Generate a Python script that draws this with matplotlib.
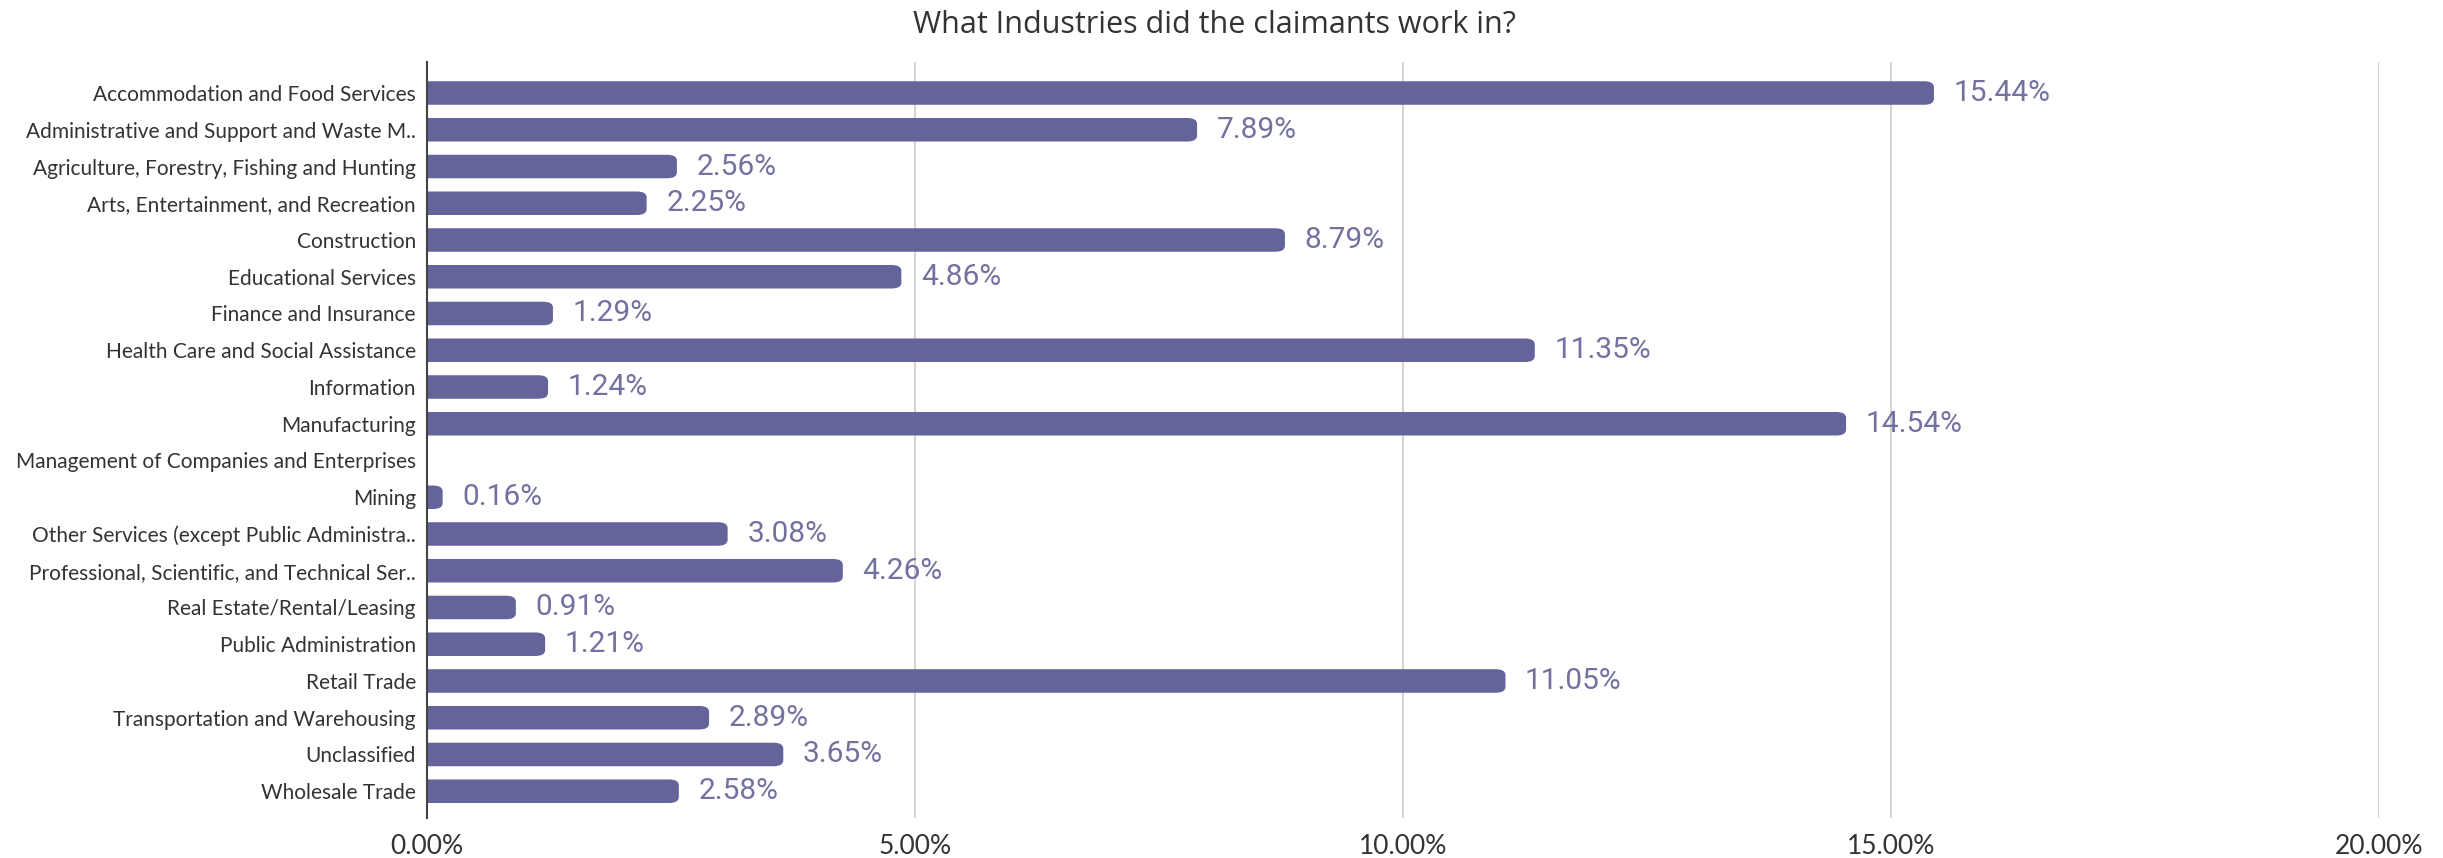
import numpy as np
import matplotlib.pyplot as plt
from matplotlib.patches import FancyBboxPatch
from matplotlib.ticker import FuncFormatter

industries = [
    "Accommodation and Food Services",
    "Administrative and Support and Waste M..",
    "Agriculture, Forestry, Fishing and Hunting",
    "Arts, Entertainment, and Recreation",
    "Construction",
    "Educational Services",
    "Finance and Insurance",
    "Health Care and Social Assistance",
    "Information",
    "Manufacturing",
    "Management of Companies and Enterprises",
    "Mining",
    "Other Services (except Public Administra..",
    "Professional, Scientific, and Technical Ser..",
    "Real Estate/Rental/Leasing",
    "Public Administration",
    "Retail Trade",
    "Transportation and Warehousing",
    "Unclassified",
    "Wholesale Trade",
]
share = [15.44, 7.89, 2.56, 2.25, 8.79, 4.86, 1.29, 11.35, 1.24, 14.54,
         0.0, 0.16, 3.08, 4.26, 0.91, 1.21, 11.05, 2.89, 3.65, 2.58]
xticks = [0, 5, 10, 15, 20]

bar_color = "#64639a"
label_color = "#72719f"

fig = plt.figure(figsize=(24.43, 8.58), dpi=100)
ax = fig.add_axes([0.1748, 0.047, 0.799, 0.881])

y = np.arange(len(industries))
bars = ax.barh(y, share, height=0.64, color=bar_color)

# swap plain rectangles for ones with a rounded right end
# (the left rounding falls outside the axes and gets clipped)
for b in bars:
    w = b.get_width()
    b.set_visible(False)
    if w <= 0:
        continue
    x0, y0, h = b.get_x(), b.get_y(), b.get_height()
    r = 0.1
    p = FancyBboxPatch((x0 - 0.3, y0), w + 0.3, h,
                       boxstyle=f"round,pad=0,rounding_size={r}",
                       mutation_aspect=h / r * 0.25,
                       facecolor=bar_color, edgecolor="none", zorder=3)
    ax.add_patch(p)

for yi, v in zip(y, share):
    if v > 0:
        ax.text(v + 0.2, yi, f"{v:.2f}%", va="center", ha="left",
                fontsize=21.5, color=label_color, family="Roboto", zorder=4)

ax.set_xlim(0, 20)
ax.set_ylim(len(industries) - 0.28, -0.85)
ax.set_yticks(y)
ax.set_yticklabels(industries, fontsize=15, family="Lato", color="#333333")
ax.set_xticks(xticks)
ax.xaxis.set_major_formatter(FuncFormatter(lambda v, p: f"{v:.2f}%"))
for t in ax.get_xticklabels():
    t.set_fontsize(19)
    t.set_family("Lato")
    t.set_color("#333333")
ax.tick_params(axis="both", length=0)
ax.tick_params(axis="x", pad=12)
ax.tick_params(axis="y", pad=8)

for xv in xticks[1:]:
    ax.axvline(xv, color="#cccccc", lw=1.2, zorder=1)

for s in ["top", "right", "bottom"]:
    ax.spines[s].set_visible(False)
ax.spines["left"].set_color("#444444")
ax.spines["left"].set_linewidth(1.5)
ax.spines["left"].set_zorder(5)

fig.suptitle("What Industries did the claimants work in?", x=0.497, y=0.988,
             va="top", fontsize=22, family="Open Sans", color="#333333")

fig.savefig("out.png", dpi=100)
